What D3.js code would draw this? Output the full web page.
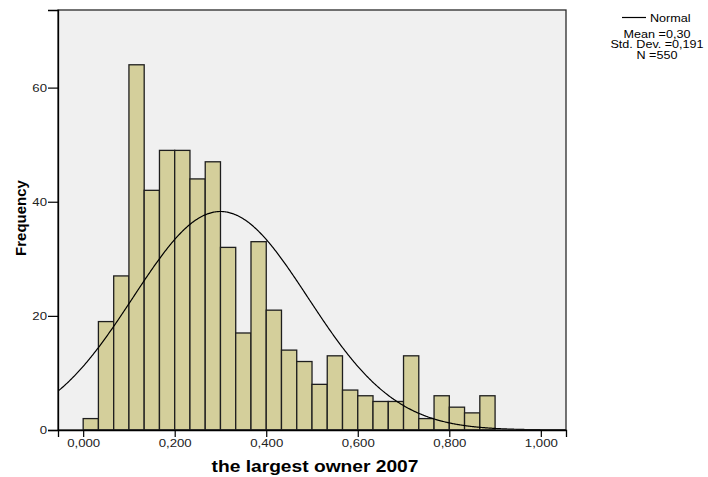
<!DOCTYPE html>
<html>
<head>
<meta charset="utf-8">
<script src="https://cdn.jsdelivr.net/npm/d3@7"></script>
<style>
  html, body { margin: 0; padding: 0; background: #ffffff; }
  svg { display: block; font-family: "Liberation Sans", Arial, sans-serif; }
</style>
</head>
<body>
<svg id="chart" width="708" height="477"></svg>
<script>
// Histogram bins (lower edge of each bin) and their frequencies
const binStarts = [0.0000, 0.0333, 0.0667, 0.1000, 0.1333, 0.1667, 0.2000, 0.2333, 0.2667,
                   0.3000, 0.3333, 0.3667, 0.4000, 0.4333, 0.4667, 0.5000, 0.5333, 0.5667,
                   0.6000, 0.6333, 0.6667, 0.7000, 0.7333, 0.7667, 0.8000, 0.8333, 0.8667];
const binWidth = 1 / 30;
const counts = [2, 19, 27, 64, 42, 49, 49, 44, 47, 32, 17, 33, 21, 14,
                12, 8, 13, 7, 6, 5, 5, 13, 2, 6, 4, 3, 6];

// Axis ticks
const xTicks = [0, 0.2, 0.4, 0.6, 0.8, 1.0];
const xTickLabels = ["0,000", "0,200", "0,400", "0,600", "0,800", "1,000"];
const yTicks = [0, 20, 40, 60];

// Summary statistics for the fitted normal curve
const meanValue = 0.30;
const sdValue = 0.191;
const nValue = 550;

const xTitle = "the largest owner 2007";
const yTitle = "Frequency";
const legendLabel = "Normal";

const svg = d3.select("#chart");
const plot = { left: 58, right: 566, top: 10, bottom: 430 };

const x = d3.scaleLinear().domain([-0.055, 1.055]).range([plot.left, plot.right]);
const y = d3.scaleLinear().domain([0, 73.6]).range([plot.bottom, plot.top]);

// Horizontal text is drawn slightly widened around its anchor point
const stretch = 1.2;
function addWideText(parent, ax, ay, str) {
  return parent.append("text")
    .attr("transform", `translate(${ax},${ay}) scale(${stretch},1)`)
    .text(str);
}
const comma = s => s.replace(".", ",");

svg.append("rect").attr("width", 708).attr("height", 477).attr("fill", "#ffffff");

// Plot background
svg.append("rect")
  .attr("x", plot.left).attr("y", plot.top)
  .attr("width", plot.right - plot.left).attr("height", plot.bottom - plot.top)
  .attr("fill", "#f0f0f0");

svg.append("clipPath").attr("id", "plot-clip")
  .append("rect")
  .attr("x", plot.left).attr("y", plot.top)
  .attr("width", plot.right - plot.left).attr("height", plot.bottom - plot.top);

// Bars
svg.append("g")
  .selectAll("rect")
  .data(binStarts.map((s, i) => ({ start: s, count: counts[i] })))
  .join("rect")
  .attr("x", d => x(d.start))
  .attr("width", d => x(d.start + binWidth) - x(d.start))
  .attr("y", d => y(d.count))
  .attr("height", d => y(0) - y(d.count))
  .attr("fill", "#d4cf9b")
  .attr("stroke", "#1e1e1e")
  .attr("stroke-width", 1.3);

// Normal curve scaled to the histogram
const pdf = v => Math.exp(-0.5 * Math.pow((v - meanValue) / sdValue, 2)) / (sdValue * Math.sqrt(2 * Math.PI));
const curveX = d3.range(-0.055, 1.0555, 0.002);
svg.append("path")
  .datum(curveX)
  .attr("clip-path", "url(#plot-clip)")
  .attr("fill", "none")
  .attr("stroke", "#000")
  .attr("stroke-width", 1.2)
  .attr("d", d3.line().x(v => x(v)).y(v => y(nValue * binWidth * pdf(v))).curve(d3.curveBasis));

// Plot frame
svg.append("rect")
  .attr("x", plot.left).attr("y", plot.top)
  .attr("width", plot.right - plot.left).attr("height", plot.bottom - plot.top)
  .attr("fill", "none")
  .attr("stroke", "#2a2a2a")
  .attr("stroke-width", 1.3);

// Y axis
const yTickSize = 10, yTickPad = 1;
const yAxis = svg.append("g")
  .attr("transform", `translate(${plot.left},0)`)
  .call(d3.axisLeft(y).tickValues(yTicks).tickSize(yTickSize).tickPadding(yTickPad).tickFormat(d3.format("d")));
yAxis.select(".domain").attr("stroke", "#000").attr("stroke-width", 1.3);
yAxis.selectAll(".tick line").attr("stroke", "#000").attr("stroke-width", 1.2);
yAxis.selectAll(".tick text")
  .attr("font-size", 11).attr("fill", "#222").attr("font-family", "Liberation Sans, Arial, sans-serif")
  .attr("x", -(yTickSize + yTickPad) / stretch)
  .attr("transform", `scale(${stretch},1)`);

// X axis
const xAxis = svg.append("g")
  .attr("transform", `translate(0,${plot.bottom})`)
  .call(d3.axisBottom(x).tickValues(xTicks).tickSize(7).tickPadding(2)
    .tickFormat((d, i) => xTickLabels[i]));
xAxis.select(".domain").attr("stroke", "#000").attr("stroke-width", 1.3);
xAxis.selectAll(".tick line").attr("stroke", "#000").attr("stroke-width", 1.2);
xAxis.selectAll(".tick text")
  .attr("font-size", 11).attr("fill", "#222").attr("font-family", "Liberation Sans, Arial, sans-serif")
  .attr("transform", `scale(${stretch},1)`);

// Axis titles
addWideText(svg, (plot.left + plot.right) / 2 + 3, 471.5, xTitle)
  .attr("text-anchor", "middle")
  .attr("font-size", 16).attr("font-weight", "bold").attr("fill", "#000");

svg.append("text")
  .attr("transform", `translate(26,${(plot.top + plot.bottom) / 2 - 2}) rotate(-90)`)
  .attr("text-anchor", "middle")
  .attr("font-size", 15).attr("font-weight", "bold").attr("fill", "#000")
  .text(yTitle);

// Legend
const legend = svg.append("g").attr("font-size", 10.5).attr("fill", "#000");
legend.append("line")
  .attr("x1", 622).attr("x2", 646).attr("y1", 17.5).attr("y2", 17.5)
  .attr("stroke", "#000").attr("stroke-width", 1.2);
addWideText(legend, 650, 21.5, legendLabel);

const statLines = [
  "Mean =" + comma(meanValue.toFixed(2)),
  "Std. Dev. =" + comma(sdValue.toFixed(3)),
  "N =" + nValue
];
statLines.forEach((line, i) => {
  addWideText(legend, 657, 37.5 + i * 10.5, line).attr("text-anchor", "middle");
});
</script>
</body>
</html>
